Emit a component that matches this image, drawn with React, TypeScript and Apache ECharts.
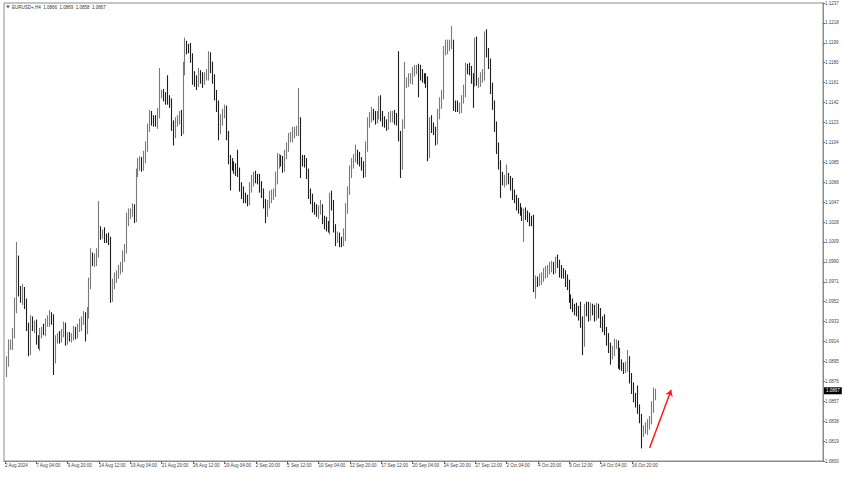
import { useEffect, useRef } from "react";
import * as echarts from "echarts";

// Prices are stored in pips above BASE (1 pip = 0.0001)
const BASE = 1.08;
const PIP = 0.0001;
const symbolTitle = "EURUSD+,H4  1.0866  1.0869  1.0858  1.0867";
const firstOpen = 86;

// H4 closes, one row per 16 bars (first bar: 2 Aug 16:00)
const closes = [
  95, 110, 112, 122, 148, 190, 162, 155, 162, 150, 128, 106, 133, 128, 130, 116,
  111, 122, 125, 124, 132, 134, 138, 135, 98, 116, 119, 118, 122, 127, 116, 119,
  118, 119, 124, 122, 127, 130, 135, 138, 125, 141, 170, 195, 190, 192, 198, 219,
  216, 217, 214, 213, 210, 157, 168, 176, 179, 182, 186, 195, 202, 230, 236, 237,
  240, 233, 275, 283, 286, 281, 290, 300, 318, 329, 326, 324, 323, 332, 350, 350,
  348, 346, 344, 342, 319, 313, 323, 326, 329, 316, 373, 396, 394, 393, 385, 367,
  364, 362, 369, 366, 364, 367, 369, 386, 375, 364, 350, 338, 316, 326, 332, 335,
  310, 288, 283, 281, 280, 277, 275, 262, 256, 251, 250, 249, 260, 268, 272, 270,
  268, 262, 256, 245, 238, 245, 252, 254, 256, 270, 284, 288, 285, 281, 292, 300,
  308, 310, 313, 314, 316, 323, 288, 286, 284, 275, 255, 249, 243, 240, 237, 240,
  240, 230, 227, 224, 222, 246, 244, 222, 213, 213, 210, 209, 216, 241, 258, 276,
  284, 289, 292, 289, 286, 281, 276, 299, 324, 328, 332, 329, 327, 330, 343, 330,
  324, 322, 321, 327, 329, 330, 326, 324, 311, 283, 321, 362, 362, 364, 365, 372,
  373, 375, 372, 369, 366, 364, 362, 299, 324, 318, 315, 307, 330, 342, 350, 391,
  394, 396, 397, 397, 340, 338, 337, 337, 345, 353, 375, 374, 372, 366, 362, 400,
  362, 362, 365, 369, 407, 390, 378, 356, 340, 318, 299, 283, 270, 267, 268, 270,
  268, 264, 254, 250, 245, 241, 238, 235, 236, 235, 232, 230, 229, 171, 172, 171,
  174, 176, 178, 181, 183, 184, 186, 184, 192, 188, 181, 179, 178, 172, 168, 155,
  150, 146, 145, 143, 138, 133, 114, 146, 142, 139, 146, 143, 139, 146, 140, 133,
  128, 124, 116, 108, 101, 106, 111, 111, 102, 92, 90, 89, 89, 95, 80, 69,
  60, 57, 50, 40, 28, 30, 31, 35, 39, 52, 66, 67,
];

// upper wick above the body, in pips
const upperWick = [
  5, 6, 4, 5, 8, 19, 6, 5, 7, 4, 5, 4, 6, 5, 4, 5,
  4, 5, 3, 6, 4, 5, 6, 4, 5, 4, 3, 5, 4, 6, 5, 4,
  4, 3, 5, 4, 4, 6, 3, 5, 4, 6, 5, 8, 4, 6, 5, 29,
  5, 4, 6, 3, 5, 4, 6, 4, 3, 5, 4, 6, 5, 7, 5, 4,
  6, 5, 4, 6, 5, 4, 6, 5, 4, 6, 5, 4, 6, 5, 25, 4,
  5, 4, 22, 5, 4, 6, 5, 4, 5, 6, 8, 8, 5, 4, 6, 4,
  5, 4, 6, 4, 5, 4, 5, 5, 4, 6, 5, 4, 6, 5, 4, 5,
  4, 5, 4, 6, 5, 4, 20, 5, 4, 6, 5, 4, 6, 5, 4, 5,
  4, 6, 5, 4, 5, 4, 6, 5, 4, 6, 10, 5, 4, 6, 5, 4,
  5, 4, 6, 5, 4, 33, 5, 4, 6, 5, 4, 5, 6, 4, 5, 4,
  9, 5, 4, 6, 5, 10, 12, 5, 4, 6, 5, 4, 6, 5, 4, 6,
  5, 4, 10, 5, 6, 4, 5, 6, 4, 5, 6, 4, 5, 4, 5, 6,
  4, 5, 4, 6, 5, 4, 5, 6, 67, 4, 5, 19, 4, 6, 5, 4,
  5, 3, 4, 6, 5, 4, 6, 5, 4, 6, 5, 4, 6, 5, 4, 5,
  8, 6, 5, 18, 5, 4, 6, 5, 4, 6, 5, 4, 6, 5, 4, 4,
  5, 4, 6, 5, 3, 5, 4, 6, 5, 4, 6, 5, 4, 6, 5, 13,
  5, 4, 6, 5, 4, 6, 5, 4, 5, 6, 4, 5, 4, 6, 5, 4,
  5, 4, 6, 5, 4, 6, 5, 4, 3, 5, 4, 6, 5, 4, 6, 5,
  4, 5, 4, 6, 5, 14, 5, 4, 6, 10, 5, 4, 6, 5, 4, 6,
  5, 12, 4, 6, 5, 4, 6, 5, 4, 6, 5, 4, 6, 11, 5, 4,
  6, 5, 15, 4, 5, 4, 6, 5, 4, 5, 4, 2,
];

// lower wick below the body, in pips
const lowerWick = [
  6, 5, 4, 6, 5, 7, 5, 4, 6, 5, 4, 6, 5, 4, 6, 5,
  4, 6, 5, 4, 5, 4, 6, 5, 16, 5, 4, 6, 5, 4, 6, 5,
  4, 5, 4, 6, 5, 4, 6, 5, 11, 4, 5, 6, 4, 5, 6, 4,
  5, 4, 6, 5, 4, 6, 5, 4, 6, 5, 4, 6, 5, 4, 6, 5,
  4, 6, 5, 4, 6, 5, 4, 6, 5, 4, 6, 5, 4, 6, 5, 4,
  5, 6, 4, 5, 4, 12, 5, 4, 5, 6, 4, 5, 6, 4, 5, 8,
  7, 8, 5, 6, 8, 5, 4, 6, 5, 4, 6, 5, 10, 4, 6, 5,
  4, 5, 25, 4, 6, 5, 4, 5, 6, 5, 4, 6, 5, 4, 6, 5,
  4, 6, 5, 4, 11, 5, 4, 6, 5, 4, 6, 5, 4, 6, 5, 4,
  5, 4, 6, 5, 4, 6, 18, 5, 4, 6, 5, 4, 6, 5, 4, 6,
  5, 4, 6, 5, 4, 6, 5, 4, 8, 5, 6, 5, 4, 6, 5, 4,
  6, 5, 4, 6, 5, 4, 6, 5, 4, 6, 5, 4, 6, 5, 4, 6,
  5, 4, 6, 5, 4, 6, 5, 4, 6, 13, 5, 4, 6, 5, 4, 6,
  5, 4, 25, 6, 5, 4, 6, 13, 10, 5, 4, 6, 5, 4, 6, 5,
  4, 6, 5, 4, 6, 5, 4, 6, 5, 4, 6, 5, 4, 6, 25, 5,
  4, 6, 5, 4, 6, 5, 4, 6, 5, 4, 6, 5, 19, 4, 6, 5,
  4, 6, 5, 4, 6, 5, 4, 6, 26, 5, 4, 6, 5, 10, 16, 5,
  4, 6, 5, 4, 6, 5, 4, 6, 5, 4, 6, 5, 4, 6, 5, 4,
  5, 4, 6, 5, 4, 6, 13, 5, 4, 6, 5, 4, 6, 5, 4, 6,
  5, 4, 6, 5, 9, 4, 6, 4, 14, 5, 4, 6, 5, 4, 6, 5,
  4, 6, 5, 4, 16, 5, 4, 6, 5, 4, 6, 8,
];

// x tick labels, one every 16 slots starting at slot 0
const xTickLabels = [
  "2 Aug 2024", "7 Aug 04:00", "9 Aug 20:00", "14 Aug 12:00", "19 Aug 04:00",
  "21 Aug 20:00", "26 Aug 12:00", "29 Aug 04:00", "2 Sep 20:00", "5 Sep 12:00",
  "10 Sep 04:00", "12 Sep 20:00", "17 Sep 12:00", "20 Sep 04:00", "24 Sep 20:00",
  "27 Sep 12:00", "2 Oct 04:00", "4 Oct 20:00", "9 Oct 12:00", "14 Oct 04:00",
  "16 Oct 20:00",
];
const TICK_EVERY = 16;
const SLOTS = 418; // 1 empty slot, 332 bars, then chart shift space

const yMin = 1.08;
const yStep = 0.0019;
const ySteps = 23;
const lastClose = 1.0867;
// red arrow drawn on the chart: [slot, price]
const arrowFrom: [number, number] = [329, 1.08124];
const arrowTo: [number, number] = [340, 1.08678];

const FONT = "Liberation Sans, Arial, sans-serif";
const FRAME = "#8c8c8c";

export default function App() {
  const ref = useRef<HTMLDivElement>(null);
  useEffect(() => {
    if (!ref.current) return;
    const chart = echarts.init(ref.current, undefined, { renderer: "svg" });
    const cats: string[] = [];
    const candles: any[] = [];
    for (let s = 0; s < SLOTS; s++) {
      cats.push(String(s));
      const j = s - 1;
      if (j >= 0 && j < closes.length) {
        const o = j === 0 ? firstOpen : closes[j - 1];
        const c = closes[j];
        const hi = Math.max(o, c) + upperWick[j];
        const lo = Math.min(o, c) - lowerWick[j];
        candles.push([BASE + o * PIP, BASE + c * PIP, BASE + lo * PIP, BASE + hi * PIP]);
      } else {
        candles.push("-");
      }
    }
    const lastTickSlot = (xTickLabels.length - 1) * TICK_EVERY;
    const showTick = (i: number) => i % TICK_EVERY === 0 && i <= lastTickSlot;
    chart.setOption({
      animation: false,
      backgroundColor: "#ffffff",
      title: {
        text: symbolTitle,
        left: 12,
        top: 5,
        padding: 0,
        textStyle: { fontSize: 4.5, fontWeight: "normal", color: "#333", fontFamily: FONT },
      },
      graphic: [
        {
          type: "polygon",
          shape: { points: [[6, 5.5], [10, 5.5], [8, 8.5]] },
          style: { fill: "#666" },
        },
      ],
      grid: {
        left: 4,
        right: 21,
        top: 3,
        bottom: 17,
        show: true,
        borderColor: FRAME,
        borderWidth: 1,
        backgroundColor: "#ffffff",
      },
      xAxis: {
        type: "category",
        data: cats,
        boundaryGap: true,
        axisLine: { show: true, lineStyle: { color: FRAME } },
        axisTick: {
          show: true,
          alignWithLabel: true,
          interval: (i: number) => showTick(i),
          length: 3,
          lineStyle: { color: "#666" },
        },
        axisLabel: {
          interval: (i: number) => showTick(i),
          formatter: (_v: string, i: number) => xTickLabels[i / TICK_EVERY] ?? "",
          align: "left",
          fontSize: 4.5,
          color: "#444",
          margin: 2,
          fontFamily: FONT,
        },
        splitLine: { show: false },
      },
      yAxis: {
        type: "value",
        position: "right",
        min: yMin,
        max: yMin + ySteps * yStep,
        interval: yStep,
        axisLine: { show: true, lineStyle: { color: FRAME } },
        axisTick: { show: true, length: 2, lineStyle: { color: "#666" } },
        axisLabel: {
          fontSize: 4.5,
          color: "#444",
          margin: 2,
          fontFamily: FONT,
          formatter: (v: number) => v.toFixed(4),
        },
        splitLine: { show: false },
      },
      series: [
        {
          type: "candlestick",
          data: candles,
          barWidth: 1.2,
          itemStyle: {
            color: "#b8b8b8",
            borderColor: "#7a7a7a",
            color0: "#1e1e1e",
            borderColor0: "#1e1e1e",
            borderWidth: 1.1,
          },
          markLine: {
            silent: true,
            symbol: ["none", "none"],
            animation: false,
            data: [
              [
                { coord: [0, lastClose], symbol: "none" },
                {
                  coord: [SLOTS - 1, lastClose],
                  symbol: "none",
                  lineStyle: { color: "rgba(0,0,0,0)", width: 1 },
                  label: {
                    show: true,
                    position: "end",
                    distance: 2,
                    formatter: lastClose.toFixed(4),
                    color: "#ffffff",
                    backgroundColor: "#000000",
                    padding: [1, 2, 1, 2],
                    fontSize: 4.5,
                    fontFamily: FONT,
                  },
                },
              ],
              [
                { coord: arrowFrom, symbol: "none" },
                {
                  coord: arrowTo,
                  symbol: "arrow",
                  symbolSize: 6,
                  lineStyle: { color: "#ff1a1a", width: 1.5, type: "solid" },
                  label: { show: false },
                },
              ],
            ],
          },
        },
      ],
    });
    return () => chart.dispose();
  }, []);
  return (
    <div
      ref={ref}
      style={{ position: "fixed", left: 0, top: 0, width: 844, height: 478 }}
    />
  );
}
